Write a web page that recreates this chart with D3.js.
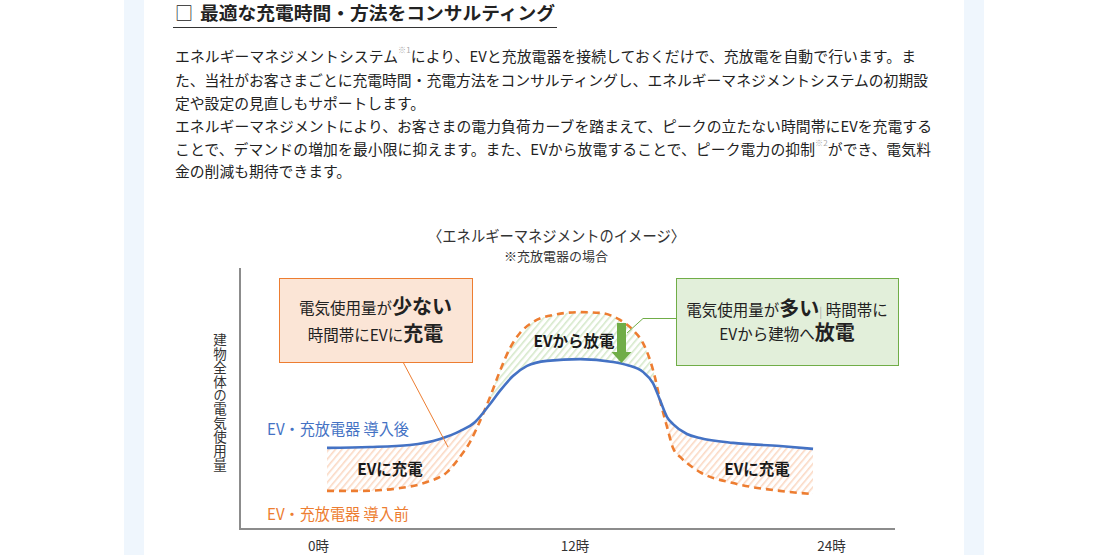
<!DOCTYPE html>
<html><head><meta charset="utf-8">
<script src="https://cdn.jsdelivr.net/npm/d3@7"></script>
<style>
body{margin:0;background:#fff;}
svg{display:block;font-family:"Noto Sans CJK JP","Noto Sans",sans-serif;}
</style>
</head><body><div id="chart"></div>
<script>
// ---------- data ----------
const pageTitle = "最適な充電時間・方法をコンサルティング";
const paragraphLines = [
  ["エネルギーマネジメントシステム", "※1", "により、EVと充放電器を接続しておくだけで、充放電を自動で行います。ま"],
  ["た、当社がお客さまごとに充電時間・充電方法をコンサルティングし、エネルギーマネジメントシステムの初期設"],
  ["定や設定の見直しもサポートします。"],
  ["エネルギーマネジメントにより、お客さまの電力負荷カーブを踏まえて、ピークの立たない時間帯にEVを充電する"],
  ["ことで、デマンドの増加を最小限に抑えます。また、EVから放電することで、ピーク電力の抑制", "※2", "ができ、電気料"],
  ["金の削減も期待できます。"]
];
const paragraphWidths = [741, 753, null, 757, 756, null];
const chartTitle = "〈エネルギーマネジメントのイメージ〉";
const chartSubtitle = "※充放電器の場合";
const yAxisLabel = "建物全体の電気使用量";
const tickHours = [0, 12, 24];
const seriesNames = ["EV・充放電器 導入後", "EV・充放電器 導入前"];
const chargeLabel = "EVに充電";
const dischargeLabel = "EVから放電";
const calloutLow = [[["電気使用量が", 0], ["少ない", 1]], [["時間帯にEVに", 0], ["充電", 1]]];
const calloutHigh = [[["電気使用量が", 0], ["多い", 1], ["|", 2], [" 時間帯に", 0]], [["EVから建物へ", 0], ["放電", 1]]];

// after introduction (blue solid)
const hoursAfter  = [0.42, 2.43, 4.30, 5.71, 6.64, 7.35, 8.05, 8.51, 9.12, 9.78, 10.71, 12.26, 13.80, 14.46, 15.20, 15.67, 16.00, 16.33, 16.61, 17.26, 17.87, 19.42, 21.61, 23.16];
const valuesAfter = [31.1, 31.4, 32.2, 34.5, 37.5, 41.0, 47.9, 52.9, 58.6, 62.5, 64.4, 65.1, 64.0, 62.8, 60.2, 55.9, 49.4, 42.9, 40.2, 36.4, 34.9, 33.0, 31.8, 30.7];
// before introduction (orange dashed)
const hoursBefore  = [0.42, 1.96, 3.84, 5.10, 6.04, 6.64, 7.11, 7.58, 8.05, 8.51, 8.98, 9.45, 10.06, 10.99, 12.26, 13.19, 14.13, 14.74, 15.20, 15.53, 15.77, 16.00, 16.33, 16.61, 16.94, 17.26, 17.87, 19.42, 21.61, 23.16];
const valuesBefore = [14.6, 14.6, 15.7, 18.0, 21.8, 27.6, 33.3, 41.4, 50.6, 60.5, 69.3, 75.1, 79.3, 82.0, 83.1, 82.8, 80.1, 76.2, 71.3, 64.8, 57.9, 49.4, 39.1, 31.0, 27.6, 25.3, 21.8, 17.6, 14.6, 13.4];

// ---------- drawing ----------
const W = 1100, H = 555;
const BLUE = "#4472c4", ORANGE = "#ed7d31", GREEN = "#70ad47";
const svg = d3.select("#chart").append("svg").attr("width", W).attr("height", H);
svg.append("rect").attr("width", W).attr("height", H).attr("fill", "#fff");
svg.append("rect").attr("x", 124).attr("y", 0).attr("width", 20).attr("height", H).attr("fill", "#eff6fd");
svg.append("rect").attr("x", 964).attr("y", 0).attr("width", 20).attr("height", H).attr("fill", "#eff6fd");

// page title
svg.append("text").attr("x", 175).attr("y", 12).attr("dominant-baseline", "central")
  .attr("font-size", 18).attr("fill", "#222").text("□");
svg.append("text").attr("x", 200).attr("y", 12).attr("dominant-baseline", "central")
  .attr("font-size", 18).attr("font-weight", 700).attr("fill", "#222")
  .attr("textLength", 355).attr("lengthAdjust", "spacingAndGlyphs").text(pageTitle);
svg.append("line").attr("x1", 173).attr("x2", 557).attr("y1", 27.5).attr("y2", 27.5)
  .attr("stroke", "#333").attr("stroke-width", 1);

// paragraph
const lineY = [55, 79, 102, 125, 148, 170];
paragraphLines.forEach((segs, i) => {
  const t = svg.append("text").attr("x", 175).attr("y", lineY[i])
    .attr("dominant-baseline", "central").attr("font-size", 14.8).attr("fill", "#222");
  if (paragraphWidths[i]) t.attr("textLength", paragraphWidths[i]).attr("lengthAdjust", "spacing");
  segs.forEach((s, j) => {
    const sp = t.append("tspan").text(s);
    if (j % 2 === 1) sp.attr("font-size", 8).attr("fill", "#aaa").attr("dy", -6);
    else if (j > 0) sp.attr("dy", 6);
  });
});

// chart title
svg.append("text").attr("x", 428).attr("y", 235).attr("dominant-baseline", "central")
  .attr("font-size", 15.5).attr("fill", "#333").attr("textLength", 257).attr("lengthAdjust", "spacingAndGlyphs")
  .text(chartTitle);
svg.append("text").attr("x", 556).attr("y", 255).attr("dominant-baseline", "central")
  .attr("text-anchor", "middle").attr("font-size", 13).attr("fill", "#333")
  .text(chartSubtitle);

// scales
const x = d3.scaleLinear().domain([0, 24]).range([318, 831]);
const y = d3.scaleLinear().domain([0, 100]).range([529, 268]);
const after = hoursAfter.map((h, i) => [h, valuesAfter[i]]);
const before = hoursBefore.map((h, i) => [h, valuesBefore[i]]);
const curve = d3.curveMonotoneX;

// patterns
const defs = svg.append("defs");
function hatch(id, color) {
  const p = defs.append("pattern").attr("id", id).attr("patternUnits", "userSpaceOnUse")
    .attr("width", 5).attr("height", 5).attr("patternTransform", "rotate(40)");
  p.append("rect").attr("width", 5).attr("height", 5).attr("fill", "#fff");
  p.append("rect").attr("x", 0).attr("width", 1.6).attr("height", 5).attr("fill", color);
}
hatch("hatchOrange", "#fbd9c4");
hatch("hatchGreen", "#d6e9cb");

const areaBelow = data => d3.area().x(d => x(d[0])).y0(y(0)).y1(d => y(d[1])).curve(curve)(data);
const areaAbove = data => d3.area().x(d => x(d[0])).y0(y(110)).y1(d => y(d[1])).curve(curve)(data);
defs.append("clipPath").attr("id", "aboveBefore").append("path").attr("d", areaAbove(before));
defs.append("clipPath").attr("id", "belowBefore").append("path").attr("d", areaBelow(before));

svg.append("g").attr("clip-path", "url(#aboveBefore)")
  .append("path").attr("d", areaBelow(after)).attr("fill", "url(#hatchOrange)");
svg.append("g").attr("clip-path", "url(#belowBefore)")
  .append("path").attr("d", areaAbove(after)).attr("fill", "url(#hatchGreen)");

// axes lines
svg.append("line").attr("x1", 240).attr("x2", 240).attr("y1", y(100)).attr("y2", y(0) + 1)
  .attr("stroke", "#8c8c8c").attr("stroke-width", 2);
svg.append("line").attr("x1", 239).attr("x2", 895).attr("y1", y(0)).attr("y2", y(0))
  .attr("stroke", "#8c8c8c").attr("stroke-width", 2);

const xAxis = svg.append("g").attr("transform", `translate(0,${y(0)})`)
  .call(d3.axisBottom(x).tickValues(tickHours).tickFormat(d => d + "時").tickSize(0));
xAxis.select(".domain").remove();
xAxis.selectAll("text").attr("y", 16).attr("dy", null).attr("dominant-baseline", "central")
  .attr("font-size", 13.5).attr("fill", "#333")
  .attr("font-family", '"Noto Sans CJK JP",sans-serif');

// y label vertical
svg.append("text").attr("x", 220).attr("y", 333)
  .style("writing-mode", "vertical-rl").attr("font-size", 13.5).attr("fill", "#333")
  .attr("letter-spacing", 0.4).text(yAxisLabel);

// lines
const line = d3.line().x(d => x(d[0])).y(d => y(d[1])).curve(curve);
svg.append("path").attr("d", line(before)).attr("fill", "none").attr("stroke", ORANGE)
  .attr("stroke-width", 2.6).attr("stroke-dasharray", "7,5");
svg.append("path").attr("d", line(after)).attr("fill", "none").attr("stroke", BLUE)
  .attr("stroke-width", 2.6);

// series labels
svg.append("text").attr("x", 267).attr("y", 428).attr("dominant-baseline", "central")
  .attr("font-size", 15.5).attr("fill", BLUE).attr("textLength", 142).attr("lengthAdjust", "spacingAndGlyphs")
  .text(seriesNames[0]);
svg.append("text").attr("x", 267).attr("y", 513).attr("dominant-baseline", "central")
  .attr("font-size", 15.5).attr("fill", ORANGE).attr("textLength", 142).attr("lengthAdjust", "spacingAndGlyphs")
  .text(seriesNames[1]);

// region labels
function bold(tx, ty, s) {
  svg.append("text").attr("x", tx).attr("y", ty).attr("text-anchor", "middle")
    .attr("dominant-baseline", "central").attr("font-size", 15.5).attr("font-weight", 700)
    .attr("fill", "#1a1a1a").text(s);
}
bold(390, 468, chargeLabel);
bold(757, 468, chargeLabel);
bold(574, 340, dischargeLabel);

// green arrow
const ax = 621.5, aTop = 323, aHead = 352, aTip = 363;
svg.append("path").attr("fill", GREEN)
  .attr("d", `M${ax - 4.5},${aTop}H${ax + 4.5}V${aHead}H${ax + 10}L${ax},${aTip}L${ax - 10},${aHead}H${ax - 4.5}Z`);

// callouts
function callout(bx, by, bw, bh, fill, stroke, lines, lineCenters) {
  svg.append("rect").attr("x", bx + 0.5).attr("y", by + 0.5).attr("width", bw).attr("height", bh)
    .attr("fill", fill).attr("stroke", stroke).attr("stroke-width", 1);
  lines.forEach((segs, i) => {
    const t = svg.append("text").attr("x", bx + bw / 2).attr("y", lineCenters[i] + 6)
      .attr("text-anchor", "middle").attr("fill", "#222");
    segs.forEach(([s, b]) => {
      const sp = t.append("tspan").text(s);
      if (b === 1) sp.attr("font-size", 20).attr("font-weight", 700);
      else if (b === 2) sp.attr("font-size", 11).attr("fill", "#aaa");
      else sp.attr("font-size", 15.5);
    });
  });
}
// leader lines
svg.append("line").attr("x1", 403).attr("y1", 362).attr("x2", 448).attr("y2", 447)
  .attr("stroke", ORANGE).attr("stroke-width", 1);
svg.append("polyline").attr("points", "676,318.5 643,318.5 627,333").attr("fill", "none")
  .attr("stroke", GREEN).attr("stroke-width", 1);
callout(279, 278, 193, 84, "#fbe5d6", ORANGE, calloutLow, [308, 335]);
callout(676, 278, 222, 87, "#e2efda", GREEN, calloutHigh, [310, 334]);
</script>
</body></html>
